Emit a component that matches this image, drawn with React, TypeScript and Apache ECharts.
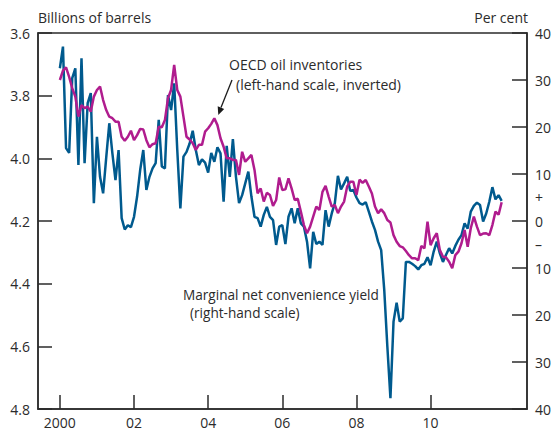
import React, { useEffect, useRef } from "react";
import * as echarts from "echarts";

// Monthly observations, January 2000 to December 2011
const START_YEAR = 2000;

// OECD oil inventories, billions of barrels (left-hand scale, inverted)
const inventories: number[] = [
  3.75, 3.72, 3.71, 3.74, 3.776, 3.803, 3.867, 3.83, 3.84, 3.835, 3.851, 3.803,
  3.782, 3.771, 3.814, 3.846, 3.867, 3.872, 3.883, 3.883, 3.931, 3.944, 3.931, 3.912,
  3.942, 3.926, 3.906, 3.908, 3.942, 3.965, 3.955, 3.952, 3.899, 3.901, 3.878, 3.808,
  3.782, 3.702, 3.782, 3.803, 3.867, 3.931, 3.94, 3.952, 3.973, 3.957, 3.957, 3.915,
  3.904, 3.89, 3.872, 3.894, 3.936, 3.963, 4.0, 4.0, 4.005, 4.005, 4.053, 3.979,
  4.011, 4.0, 3.989, 4.037, 4.112, 4.096, 4.138, 4.11, 4.117, 4.152, 4.133, 4.061,
  4.101, 4.099, 4.064, 4.096, 4.133, 4.129, 4.17, 4.213, 4.239, 4.218, 4.186, 4.154,
  4.165, 4.107, 4.088, 4.122, 4.154, 4.149, 4.175, 4.154, 4.138, 4.09, 4.075, 4.075,
  4.117, 4.068, 4.078, 4.069, 4.09, 4.112, 4.154, 4.175, 4.163, 4.175, 4.197, 4.205,
  4.245, 4.266, 4.28, 4.284, 4.296, 4.309, 4.319, 4.319, 4.325, 4.28, 4.287, 4.202,
  4.277, 4.255, 4.239, 4.293, 4.314, 4.316, 4.33, 4.351, 4.309, 4.298, 4.271, 4.229,
  4.282, 4.223, 4.186, 4.218, 4.245, 4.24, 4.239, 4.245, 4.213, 4.17, 4.18, 4.14,
];

// Marginal net convenience yield, per cent (right-hand scale)
const convenienceYield: number[] = [
  32.5, 37.1, 15.5, 14.5, 30.4, 32.5, 11.9, 34.6, 12.3, 25.1, 27.2, 3.8,
  17.9, 9.4, 5.9, 13.5, 20.8, 14.4, 8.7, 15.1, 0.6, -1.8, -0.9, -1.3,
  0.9, 5.2, 10.9, 15.1, 6.6, 9.4, 11.2, 12.3, 21.5, 11.6, 11.2, 26.8,
  23.6, 29.3, 15.1, 2.7, 13.7, 14.7, 16.5, 19.2, 15.1, 11.9, 13.1, 12.4,
  10.3, 14.5, 12.6, 15.7, 14.4, 4.1, 16.0, 9.4, 17.4, 9.4, 3.8, 5.5,
  8.0, 10.5, 5.2, 0.9, 0.6, -1.2, 1.3, 3.0, 0.9, 0.2, -5.1, -1.2,
  -0.9, -4.9, 0.9, 2.7, -0.5, 2.7, -0.5, -1.2, -4.4, -10.1, -2.3, -4.9,
  -4.4, -5.1, 2.3, -1.2, 1.6, 3.8, 9.6, 6.7, 8.0, 9.4, 6.4, 6.6,
  5.0, 3.8, 3.5, 4.0, 2.0, -0.1, -1.9, -4.4, -6.2, -14.7, -26.7, -37.7,
  -21.4, -17.4, -21.4, -20.7, -8.7, -8.7, -9.1, -9.6, -10.3, -9.4, -9.1, -7.7,
  -9.4, -6.5, -4.4, -6.9, -8.7, -7.2, -5.8, -6.9, -5.3, -4.0, -3.0, -0.5,
  -1.6, 2.0, 3.2, 3.9, 3.4, -0.1, 1.6, 4.1, 7.2, 4.6, 5.5, 4.3,
];

// Axis ticks and labels
const yearTicks: number[] = [2000, 2002, 2004, 2006, 2008, 2010];
const rightTicks: number[] = [40, 30, 20, 10, 0, -10, -20, -30, -40];
const rightLabels: number[] = [40, 30, 20, 10, 5, 0, -5, -10, -20, -30, -40];

const BLUE = "#005a8e";
const MAGENTA = "#b01c8e";
const INK = "#2b2b2b";
const FONT = "'Open Sans', sans-serif";

export default function App() {
  const ref = useRef<HTMLDivElement>(null);

  useEffect(() => {
    if (!ref.current) return;
    const chart = echarts.init(ref.current, null, { renderer: "svg" });
    const toX = (i: number) => START_YEAR + i / 12;
    const invData = inventories.map((v, i) => [toX(i), v]);
    const cyData = convenienceYield.map((v, i) => [toX(i), v]);

    const axisLine = { show: true, onZero: false, lineStyle: { color: INK, width: 1.5 } };
    const labelStyle = { color: INK, fontSize: 14, fontFamily: FONT };

    chart.setOption({
      animation: false,
      grid: {
        left: 38,
        right: 26,
        top: 33,
        bottom: 21,
        show: true,
        borderColor: INK,
        borderWidth: 1.5,
        containLabel: false,
      },
      xAxis: {
        type: "value",
        min: 1999.41,
        max: 2012.6,
        position: "bottom",
        axisLine,
        splitLine: { show: false },
        axisTick: {
          show: true,
          inside: true,
          length: 14,
          customValues: yearTicks,
          lineStyle: { color: INK, width: 1.5 },
        },
        axisLabel: {
          ...labelStyle,
          margin: 6,
          customValues: yearTicks,
          formatter: (v: number) =>
            v === 2000 ? "2000" : String(Math.round(v) % 100).padStart(2, "0"),
        },
      },
      yAxis: [
        {
          type: "value",
          position: "left",
          inverse: true,
          min: 3.6,
          max: 4.8,
          interval: 0.2,
          axisLine,
          splitLine: { show: false },
          axisTick: {
            show: true,
            inside: true,
            length: 14,
            lineStyle: { color: INK, width: 1.5 },
          },
          axisLabel: {
            ...labelStyle,
            margin: 8,
            formatter: (v: number) => v.toFixed(1),
          },
        },
        {
          type: "value",
          position: "right",
          min: -40,
          max: 40,
          interval: 10,
          axisLine,
          splitLine: { show: false },
          axisTick: {
            show: true,
            inside: true,
            length: 15,
            customValues: rightTicks,
            lineStyle: { color: INK, width: 1.5 },
          },
          axisLabel: {
            ...labelStyle,
            margin: 8,
            customValues: rightLabels,
            formatter: (v: number) =>
              v === 5 ? "+" : v === -5 ? "\u2013" : String(Math.abs(v)),
          },
        },
      ],
      series: [
        {
          name: "Marginal net convenience yield",
          type: "line",
          yAxisIndex: 1,
          data: cyData,
          showSymbol: false,
          lineStyle: { color: BLUE, width: 2.5 },
          z: 2,
        },
        {
          name: "OECD oil inventories",
          type: "line",
          yAxisIndex: 0,
          data: invData,
          showSymbol: false,
          lineStyle: { color: MAGENTA, width: 2.5 },
          z: 3,
        },
      ],
      graphic: [
        {
          type: "text",
          left: 38,
          top: 10,
          style: { text: "Billions of barrels", fill: INK, font: `14px ${FONT}` },
        },
        {
          type: "text",
          right: 26,
          top: 10,
          style: { text: "Per cent", fill: INK, font: `14px ${FONT}` },
        },
        {
          type: "text",
          left: 229,
          top: 57,
          style: {
            text: "OECD oil inventories",
            fill: INK,
            font: `14px ${FONT}`,
          },
        },
        {
          type: "text",
          left: 236,
          top: 77,
          style: {
            text: "(left-hand scale, inverted)",
            fill: INK,
            font: `14px ${FONT}`,
          },
        },
        {
          type: "line",
          shape: { x1: 232, y1: 80, x2: 221, y2: 107.6 },
          style: { stroke: "#1a1a1a", lineWidth: 1.3 },
        },
        {
          type: "polygon",
          shape: { points: [[218.3, 115], [224.2, 108.9], [217.7, 106.3]] },
          style: { fill: "#1a1a1a" },
        },
        {
          type: "text",
          left: 183,
          top: 287,
          style: {
            text: "Marginal net convenience yield",
            fill: INK,
            font: `13.6px ${FONT}`,
          },
        },
        {
          type: "text",
          left: 190,
          top: 305,
          style: {
            text: "(right-hand scale)",
            fill: INK,
            font: `13.6px ${FONT}`,
          },
        },
      ],
    });
    return () => chart.dispose();
  }, []);

  return <div ref={ref} style={{ width: 554, height: 430, position: "absolute", left: 0, top: 0 }} />;
}
